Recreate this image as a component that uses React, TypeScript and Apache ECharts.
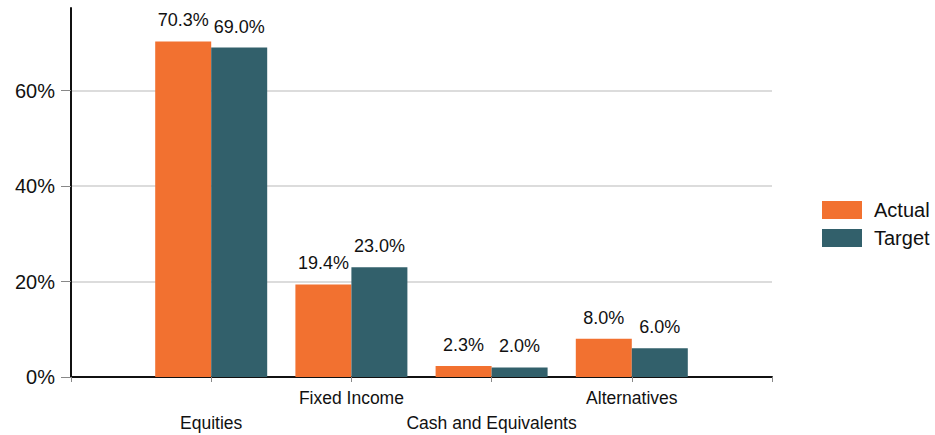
import React, { useEffect, useRef } from "react";
import * as echarts from "echarts";

const categories = ["", "Equities", "Fixed Income", "Cash and Equivalents", "Alternatives", ""];
const actualValues = [null, 70.3, 19.4, 2.3, 8.0, null];
const targetValues = [null, 69.0, 23.0, 2.0, 6.0, null];
const seriesNames = ["Actual", "Target"];
const yTicks = [0, 20, 40, 60];

const FONT = "'Liberation Sans', Arial, sans-serif";

export default function App() {
  const ref = useRef<HTMLDivElement>(null);
  useEffect(() => {
    if (!ref.current) return;
    const chart = echarts.init(ref.current, undefined, { renderer: "svg" });
    const label = {
      show: true,
      position: "top",
      distance: 12,
      fontSize: 18,
      fontFamily: FONT,
      color: "#111",
      formatter: (p: any) => (p.value == null ? "" : Number(p.value).toFixed(1) + "%"),
    };
    chart.setOption({
      animation: false,
      textStyle: { fontFamily: FONT },
      grid: { left: 71, right: 163, top: 8, bottom: 58 },
      legend: {
        data: seriesNames,
        orient: "vertical",
        left: 817,
        top: 195,
        itemWidth: 40,
        itemHeight: 18,
        itemGap: 8,
        icon: "rect",
        textStyle: { fontSize: 20, fontFamily: FONT, color: "#111", padding: [0, 0, 0, 7] },
      },
      xAxis: {
        type: "category",
        data: categories,
        boundaryGap: false,
        axisLine: { lineStyle: { color: "#111", width: 2 } },
        axisTick: { show: true, length: 5, interval: 0, lineStyle: { color: "#888" } },
        axisLabel: {
          interval: 0,
          margin: 8,
          fontSize: 17.5,
          lineHeight: 25,
          color: "#111",
          fontFamily: FONT,
          formatter: (v: string, i: number) => (i % 2 === 1 ? "\n" + v : v),
        },
        splitLine: { show: false },
      },
      yAxis: {
        type: "value",
        min: 0,
        max: 77.3,
        interval: yTicks[1] - yTicks[0],
        axisLine: { show: true, lineStyle: { color: "#111", width: 2 } },
        axisTick: { show: true, length: 10, lineStyle: { color: "#888" } },
        axisLabel: {
          fontSize: 20,
          color: "#111",
          fontFamily: FONT,
          margin: 16,
          showMaxLabel: false,
          formatter: (v: number) => (yTicks.includes(v) ? v + "%" : ""),
        },
        splitLine: { show: true, showMaxLine: false, lineStyle: { color: "#dcdcdc", width: 2 } },
      },
      series: [
        {
          name: seriesNames[0],
          type: "bar",
          data: actualValues,
          barWidth: 56,
          barGap: "0%",
          itemStyle: { color: "#F27130" },
          label,
        },
        {
          name: seriesNames[1],
          type: "bar",
          data: targetValues,
          barWidth: 56,
          barGap: "0%",
          itemStyle: { color: "#32606B" },
          label,
        },
      ],
    });
    return () => chart.dispose();
  }, []);
  return (
    <div
      ref={ref}
      style={{ position: "fixed", left: 0, top: 0, width: 935, height: 435, background: "#fff" }}
    />
  );
}
